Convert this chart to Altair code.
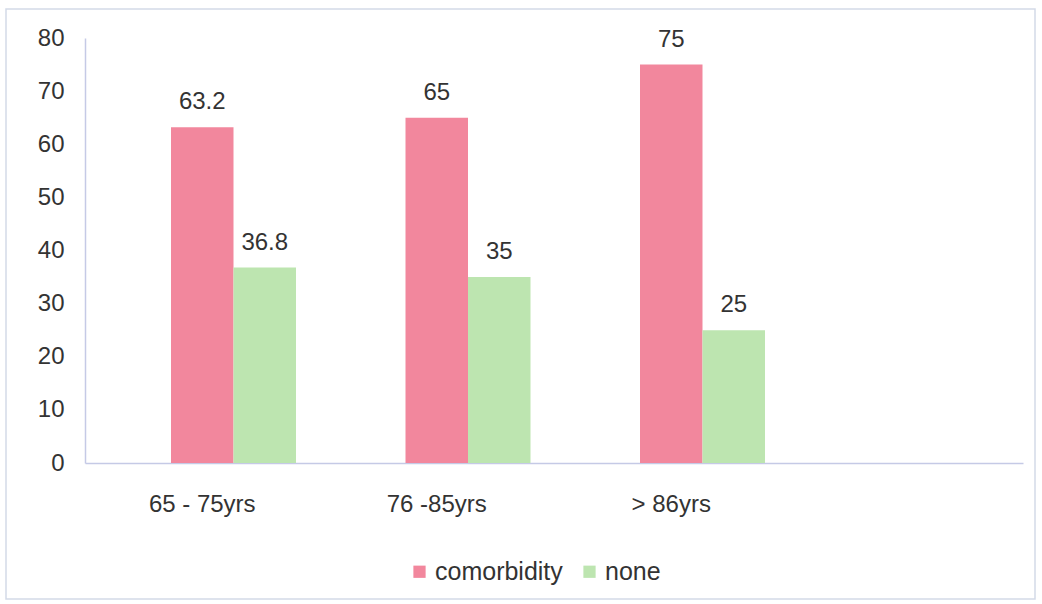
import altair as alt
import pandas as pd

categories = ["65 - 75yrs", "76 -85yrs", "> 86yrs"]
series = ["comorbidity", "none"]
comorbidity = [63.2, 65, 75]
none_vals = [36.8, 35, 25]
y_ticks = [0, 10, 20, 30, 40, 50, 60, 70, 80]
colors = ["#F2879D", "#BDE5B0"]

rows = []
for c, a, b in zip(categories, comorbidity, none_vals):
    rows.append({"group": c, "series": "comorbidity", "value": a})
    rows.append({"group": c, "series": "none", "value": b})
df = pd.DataFrame(rows)

x_domain = categories + [""]
# a blank slot sits left of the two bars inside each group, as in the original
offset_domain = ["_blank"] + series
FONT = "Liberation Sans"
TXT = "#333333"
AXIS_COL = "#C5CAE6"

x_enc = alt.X(
    "group:N",
    sort=x_domain,
    scale=alt.Scale(domain=x_domain, paddingInner=0, paddingOuter=0),
    axis=alt.Axis(title=None, labelAngle=0, ticks=False, labelPadding=29,
                  labelFontSize=24, labelColor=TXT, labelFont=FONT,
                  domainColor=AXIS_COL, domainWidth=1.5),
)
xoff = alt.XOffset("series:N", scale=alt.Scale(domain=offset_domain, paddingInner=0, paddingOuter=0.376))
y_enc = alt.Y(
    "value:Q",
    scale=alt.Scale(domain=[0, 80], nice=False),
    axis=alt.Axis(title=None, values=y_ticks, ticks=False, grid=False, labelPadding=21,
                  labelFontSize=24, labelColor=TXT, labelFont=FONT,
                  domainColor=AXIS_COL, domainWidth=1.5),
)

bars = alt.Chart(df).mark_bar().encode(
    x=x_enc,
    xOffset=xoff,
    y=y_enc,
    color=alt.Color("series:N", scale=alt.Scale(domain=series, range=colors),
                    legend=alt.Legend(title=None, orient="none", legendX=322, legendY=521,
                                      direction="horizontal", symbolType="square",
                                      symbolSize=150, symbolStrokeWidth=0,
                                      labelFontSize=25, labelFont=FONT, labelColor=TXT,
                                      columnPadding=14, labelOffset=3)),
)

labels = alt.Chart(df).mark_text(baseline="alphabetic", dy=-18, fontSize=24, font=FONT, color=TXT).encode(
    x=alt.X("group:N", sort=x_domain),
    xOffset=alt.XOffset("series:N"),
    y=alt.Y("value:Q"),
    text=alt.Text("value:Q", format="~g"),
)

frame = alt.Chart(pd.DataFrame({"k": [0]})).mark_rect(fill=None, stroke="#D3DAE8", strokeWidth=1.5).encode(
    x=alt.value(-79), x2=alt.value(950), y=alt.value(-29), y2=alt.value(561)
)

chart = alt.layer(frame, bars, labels).properties(
    width=938, height=425,
    autosize=alt.AutoSizeParams(type="none"),
    padding={"left": 85, "top": 38, "right": 19, "bottom": 141},
    background="white",
).configure_view(stroke=None)

chart.save("out.html", embed_options={"renderer": "svg", "actions": False})
